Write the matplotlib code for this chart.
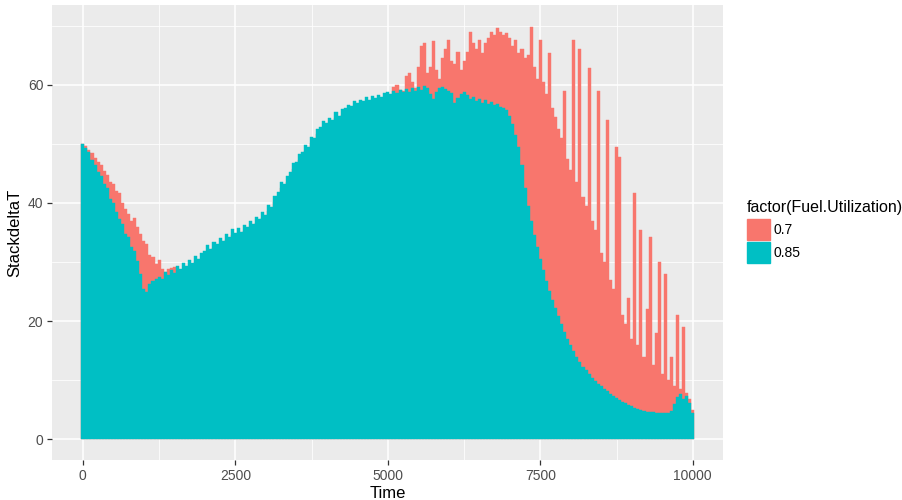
import numpy as np
import matplotlib
matplotlib.use('Agg')
import matplotlib.pyplot as plt
from matplotlib.patches import Rectangle

plt.rcParams['font.family'] = ['Liberation Sans', 'DejaVu Sans']

# time steps (every 50 s) and StackdeltaT
time = np.arange(0, 10001, 50)

fu_085 = [
    50.0, 49.3, 48.6, 47.2, 46.5, 45.3, 44.6, 43.2, 42.5, 40.6,
    40.0, 38.4, 37.3, 36.5, 34.8, 34.2, 32.6, 31.8, 30.1, 28.0,
    25.5, 25.0, 26.3, 26.8, 27.2, 27.4, 27.2, 28.3, 27.8, 28.6,
    28.2, 29.3, 28.9, 29.8, 29.4, 30.4, 29.9, 31.0, 30.6, 31.6,
    31.8, 32.9, 32.2, 33.4, 33.0, 34.1, 33.6, 34.8, 34.2, 35.6,
    34.9, 35.8, 35.1, 36.3, 35.9, 36.9, 36.5, 37.6, 37.2, 38.4,
    38.0, 39.6, 39.4, 41.2, 41.8, 43.5, 43.2, 44.6, 45.3, 46.8,
    47.0, 48.3, 48.6, 49.8, 49.5, 51.2, 51.0, 52.6, 52.8, 53.9,
    53.6, 54.4, 54.1, 55.4, 54.8, 55.9, 56.0, 56.6, 56.4, 57.2,
    57.0, 57.5, 57.3, 57.9, 57.5, 58.1, 57.8, 58.3, 58.0, 58.6,
    58.8, 58.4, 59.0, 58.6, 59.1, 58.7, 59.3, 58.8, 59.4, 59.0,
    59.6, 59.2, 59.8, 59.5, 58.4, 57.6, 58.8, 59.5, 59.6, 59.3,
    59.0, 58.6, 57.0, 57.8, 58.4, 58.7, 58.3, 57.6, 58.0, 57.2,
    57.6, 57.0, 57.4, 56.8, 57.1, 56.5, 56.7, 56.2, 56.0, 55.8,
    54.8, 53.4, 51.5, 49.5, 46.5, 42.5, 39.5, 37.0, 34.6, 32.6,
    30.6, 28.6, 26.8, 25.1, 23.6, 22.2, 20.8, 19.5, 18.2, 17.0,
    16.0, 14.9, 14.0, 13.1, 12.3, 11.7, 11.0, 10.4, 9.9, 9.4,
    9.0, 8.5, 8.1, 7.7, 7.3, 7.0, 6.6, 6.4, 6.1, 5.8,
    5.6, 5.3, 5.1, 5.0, 4.8, 4.7, 4.6, 4.6, 4.5, 4.5,
    4.4, 4.4, 4.4, 4.8, 6.0, 7.2, 7.6, 6.8, 7.4, 6.2,
    4.5,
]

fu_07 = [
    50.0, 49.6, 49.0, 48.4, 47.6, 47.0, 46.4, 45.4, 44.8, 43.6,
    43.2, 42.0, 41.6, 40.0, 39.0, 38.2, 37.0, 37.5, 36.0, 34.8,
    33.5, 33.0, 31.2, 30.8, 29.6, 30.3, 28.8, 28.4, 28.9, 29.0,
    29.1, 28.8, 28.0, 28.6, 28.5, 29.2, 29.0, 30.0, 29.8, 30.6,
    31.0, 31.8, 31.5, 32.4, 32.2, 33.0, 32.8, 33.8, 33.5, 34.5,
    34.2, 34.8, 34.5, 35.3, 35.1, 35.9, 35.7, 36.6, 36.4, 37.4,
    37.2, 38.6, 38.6, 40.2, 40.9, 42.5, 42.4, 43.6, 44.4, 45.8,
    46.1, 47.3, 47.7, 48.8, 48.7, 50.2, 50.2, 51.6, 52.0, 52.9,
    52.8, 53.4, 53.3, 54.4, 54.0, 54.9, 55.2, 55.6, 55.6, 56.2,
    56.2, 56.5, 56.5, 56.9, 56.7, 57.1, 57.0, 57.3, 57.2, 57.8,
    58.5, 58.0, 59.6, 60.0, 59.2, 59.0, 61.5, 62.0, 60.5, 59.5,
    63.0, 66.5, 67.0, 62.0, 63.0, 67.4, 62.5, 61.0, 64.5, 66.0,
    67.5, 64.0, 63.5, 65.5, 62.5, 64.0, 65.5, 69.0, 67.0, 66.0,
    67.5, 65.4, 67.0, 68.0, 69.0, 68.5, 69.6, 69.0, 68.4, 68.8,
    68.0, 66.5, 67.6, 65.4, 66.0, 64.5, 65.0, 69.7, 63.0, 61.0,
    67.6, 60.5, 58.5, 65.4, 56.0, 54.5, 52.5, 51.0, 59.0, 47.5,
    45.5, 67.6, 43.5, 66.0, 41.0, 39.5, 62.9, 37.0, 35.5, 58.9,
    31.5, 30.0, 54.0, 27.0, 25.5, 49.5, 47.8, 21.0, 19.5, 24.0,
    17.0, 41.7, 16.0, 35.4, 14.0, 22.0, 34.2, 12.5, 18.0, 30.0,
    11.0, 28.0, 10.0, 14.0, 9.0, 21.0, 8.5, 19.0, 7.8, 6.8,
    5.0,
]

red = '#F8766D'
teal = '#00BFC4'

fig = plt.figure(figsize=(9.03, 5.0), dpi=100)
ax = fig.add_axes([0.058, 0.08, 0.743, 0.91])
ax.set_facecolor('#EBEBEB')

ax.bar(time, fu_07, width=50, color=red, edgecolor=red, linewidth=0.3, zorder=2)
ax.bar(time, fu_085, width=50, color=teal, edgecolor=teal, linewidth=0.3, zorder=3)

ax.set_xlim(-500, 10500)
ax.set_ylim(-3.5, 73.5)
ax.set_xticks([0, 2500, 5000, 7500, 10000])
ax.set_yticks([0, 20, 40, 60])
ax.set_xticks([1250, 3750, 6250, 8750], minor=True)
ax.set_yticks([10, 30, 50, 70], minor=True)
ax.grid(which='major', color='white', linewidth=1.1, zorder=0)
ax.grid(which='minor', color='white', linewidth=0.55, zorder=0)
ax.set_axisbelow(True)
for s in ax.spines.values():
    s.set_visible(False)
ax.tick_params(which='major', length=3.5, width=0.9, color='#333333',
               labelsize=10, labelcolor='#4D4D4D', pad=3)
ax.tick_params(which='minor', length=0)

ax.set_xlabel('Time', fontsize=12, color='black', labelpad=2)
ax.set_ylabel('StackdeltaT', fontsize=12, color='black', labelpad=4)

# legend
fig.text(747 / 903, 1 - 208 / 500, 'factor(Fuel.Utilization)', fontsize=11.5,
         ha='left', va='center')
fig.patches.append(Rectangle((747 / 903, 1 - 240 / 500), 23 / 903, 21 / 500,
                             transform=fig.transFigure, color=red))
fig.patches.append(Rectangle((747 / 903, 1 - 263 / 500), 23 / 903, 21 / 500,
                             transform=fig.transFigure, color=teal))
fig.text(774 / 903, 1 - 230 / 500, '0.7', fontsize=10, ha='left', va='center')
fig.text(774 / 903, 1 - 253 / 500, '0.85', fontsize=10, ha='left', va='center')

fig.savefig('out.png', dpi=100)
